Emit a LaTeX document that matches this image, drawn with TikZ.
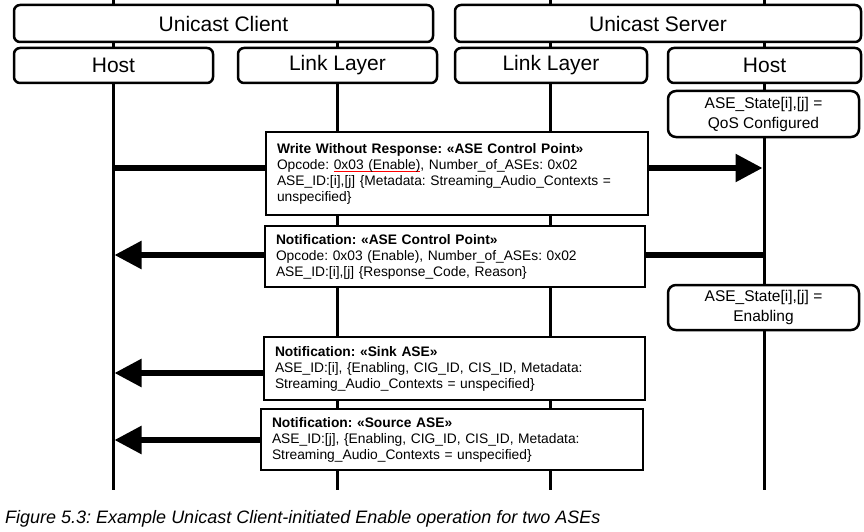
\documentclass[tikz,border=0pt]{standalone}
\usepackage{fontspec}
\setmainfont{Liberation Sans}
\usetikzlibrary{arrows.meta}
\newlength\ulw
\newcommand\redul[1]{\settowidth\ulw{#1}\rlap{\textcolor{red}{\rule[-3.3pt]{\ulw}{1.8pt}}}#1}
\frenchspacing
\begin{document}
\begin{tikzpicture}[x=1pt,y=-1pt,
 life/.style={line width=3pt},
 hdr/.style={draw,line width=2.5pt,rounded corners=6pt,fill=white,inner sep=0pt,font=\fontsize{21}{24}\selectfont},
 msg/.style={draw,line width=2.5pt,fill=white,inner xsep=11pt,inner ysep=0pt,align=left,font=\fontsize{13.8}{16}\selectfont},
 state/.style={draw,line width=2.5pt,rounded corners=8pt,fill=white,inner sep=0pt,align=center,font=\fontsize{15.5}{20}\selectfont},
 arr/.style={line width=5.5pt,-{Triangle[length=27pt,width=27pt]}}]
\useasboundingbox (0,0) rectangle (864,532);
% lifelines
\coordinate (t1) at (113,0); \coordinate (b1) at (113,490);
\coordinate (t2) at (337,0); \coordinate (b2) at (337,490);
\coordinate (t3) at (550,0); \coordinate (b3) at (550,490);
\coordinate (t4) at (764,0); \coordinate (b4) at (764,490);
\draw[life] (t1) -- (b1);
\draw[life] (t2) -- (b2);
\draw[life] (t3) -- (b3);
\draw[life] (t4) -- (b4);
% arrows
\coordinate (a1s) at (113,168); \coordinate (a1e) at (762.5,168);
\coordinate (a2s) at (764,255); \coordinate (a2e) at (114.5,255);
\coordinate (a3s) at (550,373); \coordinate (a3e) at (114.5,373);
\coordinate (a4s) at (550,440); \coordinate (a4e) at (114.5,440);
\draw[arr] (a1s) -- (a1e);
\draw[arr] (a2s) -- (a2e);
\draw[arr] (a3s) -- (a3e);
\draw[arr] (a4s) -- (a4e);
% headers
\node[hdr,minimum width=419pt,minimum height=37pt] (uc) at (223.5,23.5) {Unicast Client};
\node[hdr,minimum width=406pt,minimum height=37pt] (us) at (658,23.5) {Unicast Server};
\node[hdr,minimum width=199pt,minimum height=35pt] (h1) at (113.5,65.5) {Host};
\node[hdr,minimum width=199pt,minimum height=35pt] (l1) at (337.5,65.5) {Link Layer};
\node[hdr,minimum width=192pt,minimum height=35pt] (l2) at (551,65.5) {Link Layer};
\node[hdr,minimum width=193pt,minimum height=35pt] (h2) at (764.5,65.5) {Host};
% states
\node[state,minimum width=191pt,minimum height=46pt] (s1) at (763.5,114) {ASE\_State[i],[j] =\\QoS Configured};
\node[state,minimum width=191pt,minimum height=45pt] (s2) at (763.5,307.5) {ASE\_State[i],[j] =\\Enabling};
% messages
\node[msg,text width=360pt,minimum height=83pt] (m1) at (457,173.5) {\textbf{Write Without Response: «ASE Control Point»}\\Opcode: \redul{0x03 (Enable)}, Number\_of\_ASEs: 0x02\\ASE\_ID:[i],[j] \{Metadata: Streaming\_Audio\_Contexts =\\unspecified\}};
\node[msg,text width=358pt,minimum height=61pt] (m2) at (455,256.5) {\textbf{Notification: «ASE Control Point»}\\Opcode: 0x03 (Enable), Number\_of\_ASEs: 0x02\\ASE\_ID:[i],[j] \{Response\_Code, Reason\}};
\node[msg,text width=359pt,minimum height=63pt] (m3) at (454.5,368.5) {\textbf{Notification: «Sink ASE»}\\ASE\_ID:[i], \{Enabling, CIG\_ID, CIS\_ID, Metadata:\\Streaming\_Audio\_Contexts = unspecified\}};
\node[msg,text width=360pt,minimum height=61pt] (m4) at (452,439.5) {\textbf{Notification: «Source ASE»}\\ASE\_ID:[j], \{Enabling, CIG\_ID, CIS\_ID, Metadata:\\Streaming\_Audio\_Contexts = unspecified\}};
% caption
\node[anchor=base west,inner sep=0pt,font=\fontsize{18}{21}\selectfont\itshape] (cap) at (5,523) {Figure 5.3: Example Unicast Client-initiated Enable operation for two ASEs};
\end{tikzpicture}
\end{document}
